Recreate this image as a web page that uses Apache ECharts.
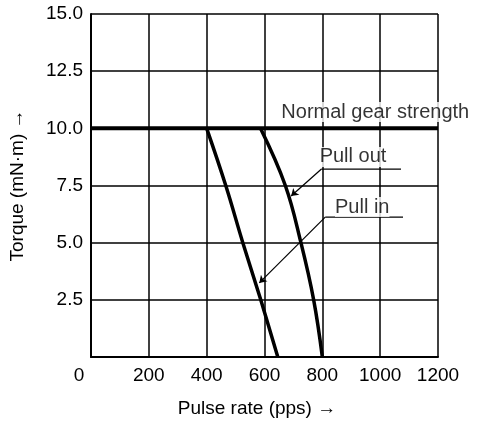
<!DOCTYPE html>
<html>
<head>
<meta charset="utf-8">
<script src="https://cdn.jsdelivr.net/npm/echarts@6/dist/echarts.min.js"></script>
<style>
  html, body { margin: 0; padding: 0; background: #fff; }
  #chart { width: 477px; height: 424px; }
</style>
</head>
<body>
<div id="chart"></div>
<script>
// values: [pulse rate (pps), torque (mN·m)]
const gearStrength = [[0, 10], [1200, 10]];
const pullIn = [[400, 10], [466, 7.5], [525, 5], [587, 2.5], [646, 0]];
const pullOut = [[586, 10], [672, 7.5], [726, 5], [770, 2.5], [800, 0]];

// annotation leaders: underline, then the slanted line with the arrow
const pullOutUnderline = [[1072, 8.22], [797, 8.22]];
const pullOutArrow = [[797, 8.22], [692, 7.04]];
const pullInUnderline = [[1079, 6.12], [810, 6.12]];
const pullInArrow = [[810, 6.12], [582, 3.24]];

// annotation texts and where they sit
const notes = [
    { text: 'Normal gear strength', at: [983, 10.71] },
    { text: 'Pull out', at: [906, 8.75] },
    { text: 'Pull in', at: [938, 6.56] }
];

const xTicks = { min: 0, max: 1200, step: 200 };
const yTicks = { min: 0, max: 15, step: 2.5 };

const font = 'Liberation Sans, Arial, sans-serif';
const black = '#000';

const thickLine = (name, data, width, smooth) => ({
    name: name,
    type: 'line',
    data: data,
    symbol: 'none',
    smooth: smooth,
    lineStyle: { color: black, width: width },
    z: 5
});

const thinLine = (data) => ({
    type: 'line',
    data: data,
    symbol: 'none',
    lineStyle: { color: black, width: 1.2 },
    silent: true,
    z: 4
});

const arrowLine = (data) => ({
    type: 'lines',
    coordinateSystem: 'cartesian2d',
    data: [{ coords: data }],
    symbol: ['none', 'arrow'],
    symbolSize: 7,
    lineStyle: { color: black, width: 1.2, opacity: 1 },
    silent: true,
    z: 4
});

const chart = echarts.init(document.getElementById('chart'), null, { renderer: 'canvas' });

chart.setOption({
    animation: false,
    backgroundColor: '#fff',
    grid: { left: 91, right: 39, top: 14, bottom: 67 },
    xAxis: {
        type: 'value',
        min: xTicks.min,
        max: xTicks.max,
        interval: xTicks.step,
        name: 'Pulse rate (pps) →',
        nameLocation: 'middle',
        nameGap: 42,
        nameTextStyle: { color: black, fontSize: 19, fontFamily: font, padding: [0, 15, 0, 0] },
        axisLine: { lineStyle: { color: black, width: 2 } },
        axisTick: { show: false },
        axisLabel: {
            color: black,
            fontSize: 19,
            fontFamily: font,
            margin: 9,
            formatter: v => v === 0 ? '{z|0}' : String(v),
            rich: { z: { fontSize: 19, fontFamily: font, color: black, padding: [0, 24, 0, 0] } }
        },
        splitLine: { show: true, lineStyle: { color: black, width: 1.5 } }
    },
    yAxis: {
        type: 'value',
        min: yTicks.min,
        max: yTicks.max,
        interval: yTicks.step,
        name: 'Torque (mN·m) →',
        nameLocation: 'middle',
        nameGap: 64,
        nameTextStyle: { color: black, fontSize: 19, fontFamily: font },
        axisLine: { show: true, lineStyle: { color: black, width: 2 } },
        axisTick: { show: false },
        axisLabel: {
            color: black,
            fontSize: 19,
            fontFamily: font,
            margin: 8,
            formatter: v => v === 0 ? '' : v.toFixed(1)
        },
        splitLine: { show: true, lineStyle: { color: black, width: 1.5 } }
    },
    series: [
        thickLine('Normal gear strength', gearStrength, 4, false),
        thickLine('Pull in', pullIn, 3.5, 0.4),
        thickLine('Pull out', pullOut, 3.5, 0.4),
        thinLine(pullOutUnderline),
        arrowLine(pullOutArrow),
        thinLine(pullInUnderline),
        arrowLine(pullInArrow),
        {
            type: 'scatter',
            data: notes.map(n => ({ value: n.at, name: n.text })),
            symbolSize: 0,
            silent: true,
            label: {
                show: true,
                position: 'inside',
                formatter: p => p.name,
                color: black,
                fontSize: 20,
                fontFamily: font,
                textBorderWidth: 0,
                textBorderColor: 'transparent',
                backgroundColor: '#fff'
            },
            z: 6
        }
    ]
});
</script>
</body>
</html>
